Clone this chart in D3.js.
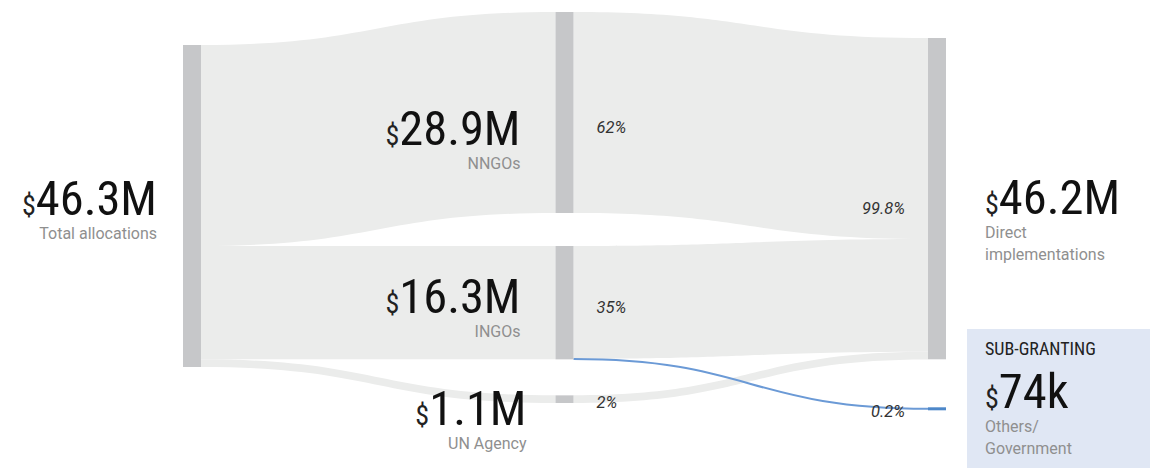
<!DOCTYPE html>
<html>
<head>
<meta charset="utf-8">
<script src="https://cdn.jsdelivr.net/npm/d3@7"></script>
<style>
  html, body { margin: 0; padding: 0; background: #fff; }
  svg { display: block; font-family: 'Roboto Condensed', 'Roboto', sans-serif; }
  .plain { font-family: 'Roboto', sans-serif; }
</style>
</head>
<body>
<svg id="sankey" width="1150" height="468"></svg>
<script>
// values (US$ millions)
const totalLabel = 'Total allocations';
const totalValue = 46.3;

const partners = ['NNGOs', 'INGOs', 'UN Agency'];
const partnerValues = [28.9, 16.3, 1.1];
const partnerShares = ['62%', '35%', '2%'];

const modalities = ['Direct implementations', 'Others/Government'];
const modalityValues = [46.2, 0.074];
const modalityShares = ['99.8%', '0.2%'];

// partner -> modality flows, one row per partner
const directFlows = [28.9, 16.226, 1.1];
const otherFlows = [0, 0.074, 0];

const moneyText = ['46.3M', '28.9M', '16.3M', '1.1M', '46.2M', '74k'];
const subLabels = [
  ['Total allocations'],
  ['NNGOs'],
  ['INGOs'],
  ['UN Agency'],
  ['Direct', 'implementations'],
  ['Others/', 'Government'],
];

const svg = d3.select('#sankey');

const nodeWidth = 18;
const colX = d3.scaleLinear().domain([0, 2]).range([183, 928]);
const h = d3.scaleLinear().domain([0, totalValue]).range([0, 322]);

// column layout: first node top and gaps between nodes
const colTop = [45, 12, 38];
const colGaps = [[], [33, 36], [48]];
const minNodeHeight = 3;

let nodes = [];
let addColumn = function(col, names, values) {
  let y = colTop[col];
  names.forEach(function(name, i) {
    if (i > 0) y += colGaps[col][i - 1];
    let dy = Math.max(h(values[i]), minNodeHeight);
    nodes.push({
      name,
      col,
      value: values[i],
      x0: colX(col),
      x1: colX(col) + nodeWidth,
      y0: y,
      y1: y + h(values[i]),
      drawH: dy,
      outY: y,
      inY: y,
    });
    y += h(values[i]);
  });
};
addColumn(0, [totalLabel], [totalValue]);
addColumn(1, partners, partnerValues);
addColumn(2, modalities, modalityValues);

const byName = {};
nodes.forEach(function(n) {
  byName[n.name] = n;
});

let links = [];
partners.forEach(function(p, i) {
  links.push({ source: byName[totalLabel], target: byName[p], value: partnerValues[i] });
});
partners.forEach(function(p, i) {
  links.push({ source: byName[p], target: byName[modalities[0]], value: directFlows[i] });
});
partners.forEach(function(p, i) {
  if (otherFlows[i] > 0)
    links.push({ source: byName[p], target: byName[modalities[1]], value: otherFlows[i], sub: true });
});

// stack link ends on source and target nodes, in node order
nodes.forEach(function(n) {
  links
    .filter(l => l.source === n)
    .sort((a, b) => a.target.y0 - b.target.y0)
    .forEach(function(l) {
      l.sy0 = n.outY;
      l.sy1 = n.outY + h(l.value);
      n.outY = l.sy1;
    });
  links
    .filter(l => l.target === n)
    .sort((a, b) => a.source.y0 - b.source.y0)
    .forEach(function(l) {
      l.ty0 = n.inY;
      l.ty1 = n.inY + h(l.value);
      n.inY = l.ty1;
    });
});

let bandPath = function(l) {
  let x0 = l.source.x1;
  let x1 = l.target.x0;
  let xm = (x0 + x1) / 2;
  let p = d3.path();
  p.moveTo(x0, l.sy0);
  p.bezierCurveTo(xm, l.sy0, xm, l.ty0, x1, l.ty0);
  p.lineTo(x1, l.ty1);
  p.bezierCurveTo(xm, l.ty1, xm, l.sy1, x0, l.sy1);
  p.closePath();
  return p.toString();
};

const lineLink = d3
  .linkHorizontal()
  .source(l => [l.source.x1, (l.sy0 + l.sy1) / 2])
  .target(l => [l.target.x0, l.target.y0 + l.target.drawH / 2]);

// sub-granting highlight box
const subNode = byName[modalities[1]];
svg
  .append('rect')
  .attr('x', subNode.x1 + 21)
  .attr('y', 329)
  .attr('width', 1150 - (subNode.x1 + 21))
  .attr('height', 468 - 329)
  .attr('fill', '#e0e7f4');

svg
  .append('g')
  .selectAll('path')
  .data(links.filter(l => !l.sub))
  .join('path')
  .attr('d', bandPath)
  .attr('fill', '#ebeceb');

svg
  .append('g')
  .selectAll('path')
  .data(links.filter(l => l.sub))
  .join('path')
  .attr('d', lineLink)
  .attr('fill', 'none')
  .attr('stroke', '#6b9ad6')
  .attr('stroke-width', 2);

svg
  .append('g')
  .selectAll('rect')
  .data(nodes)
  .join('rect')
  .attr('x', d => d.x0)
  .attr('y', d => d.y0)
  .attr('width', nodeWidth)
  .attr('height', d => d.drawH)
  .attr('fill', d => (d === subNode ? '#4d87c9' : '#c6c7c9'));

// value labels: baseline of the big number and anchor side
const labelBase = [215, 145, 313, 425, 214, 408];
let valueLabel = function(n, i) {
  let left = n.col === 2;
  let x = left ? n.x1 + 39 : n.x0 - (n.col === 0 ? 26 : 35);
  if (n.name === 'UN Agency') x += 6;
  let g = svg.append('g').attr('text-anchor', left ? 'start' : 'end');
  let t = g
    .append('text')
    .attr('x', x)
    .attr('y', labelBase[i]);
  t.append('tspan')
    .attr('font-size', 28)
    .attr('fill', '#222')
    .text('$');
  t.append('tspan')
    .attr('font-size', 48.5)
    .attr('fill', '#111')
    .text(moneyText[i]);
  subLabels[i].forEach(function(s, j) {
    g.append('text')
      .attr('class', 'plain')
      .attr('x', x)
      .attr('y', labelBase[i] + 24 + j * 21.5)
      .attr('font-size', 16)
      .attr('fill', '#8f8f8f')
      .text(s);
  });
};
nodes.forEach(valueLabel);

svg
  .append('text')
  .attr('x', subNode.x1 + 39)
  .attr('y', 355)
  .attr('font-size', 18)
  .attr('fill', '#222')
  .text('SUB-GRANTING');

// share labels
const shareBase = [133, 313, 408];
partners.forEach(function(p, i) {
  let n = byName[p];
  svg
    .append('text')
    .attr('class', 'plain')
    .attr('x', n.x1 + 23)
    .attr('y', shareBase[i])
    .attr('font-size', 16.5)
    .attr('font-style', 'italic')
    .attr('fill', '#333')
    .text(partnerShares[i]);
});
const modalityBase = [214, 417];
modalities.forEach(function(m, i) {
  let n = byName[m];
  svg
    .append('text')
    .attr('class', 'plain')
    .attr('x', n.x0 - 23)
    .attr('y', modalityBase[i])
    .attr('text-anchor', 'end')
    .attr('font-size', 16.5)
    .attr('font-style', 'italic')
    .attr('fill', '#333')
    .text(modalityShares[i]);
});
</script>
</body>
</html>
